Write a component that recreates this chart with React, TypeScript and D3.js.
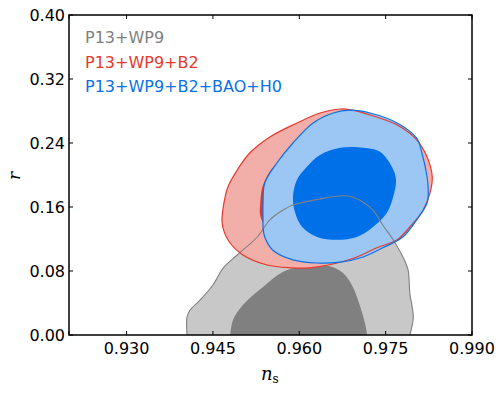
import React from 'react';
import * as d3 from 'd3';

// contour points are [n_s, r]
const grayOuter: [number, number][] = [
  [0.9405, 0], [0.9405, 0.0225], [0.9410, 0.031], [0.9428, 0.044], [0.9450, 0.0625],
  [0.9468, 0.084], [0.9492, 0.100], [0.9527, 0.1225], [0.9549, 0.144], [0.9567, 0.154],
  [0.9589, 0.1625], [0.9636, 0.170], [0.9676, 0.174], [0.9692, 0.1725], [0.9711, 0.166],
  [0.9728, 0.156], [0.9745, 0.1375], [0.9763, 0.119], [0.9780, 0.0975], [0.9789, 0.081],
  [0.9792, 0.0525], [0.9798, 0.0225], [0.9792, 0],
];
const grayInner: [number, number][] = [
  [0.9480, 0], [0.9485, 0.019], [0.9502, 0.0375], [0.9537, 0.060], [0.9572, 0.079],
  [0.9601, 0.085], [0.9631, 0.086], [0.9653, 0.086], [0.9676, 0.0775], [0.9693, 0.060],
  [0.9706, 0.035], [0.9714, 0.015], [0.9718, 0],
];
const redOuter: [number, number][] = [
  [0.9466, 0.140], [0.9468, 0.160], [0.9476, 0.185], [0.9492, 0.206], [0.9514, 0.2275],
  [0.9549, 0.2475], [0.9596, 0.265], [0.9636, 0.2775], [0.9671, 0.2825], [0.9692, 0.281],
  [0.9723, 0.275], [0.9770, 0.2625], [0.9804, 0.244], [0.9822, 0.2225], [0.9831, 0.1975],
  [0.9827, 0.1775], [0.9815, 0.156], [0.9792, 0.135], [0.9770, 0.119], [0.9735, 0.109],
  [0.9700, 0.0975], [0.9666, 0.090], [0.9619, 0.084], [0.9584, 0.084], [0.9544, 0.0875],
  [0.9502, 0.100], [0.9476, 0.119],
];
const redInner: [number, number][] = [
  [0.9532, 0.1625], [0.9537, 0.1875], [0.9558, 0.2125], [0.9601, 0.231], [0.9671, 0.241],
  [0.9732, 0.231], [0.9766, 0.206], [0.9771, 0.175], [0.9749, 0.141], [0.9705, 0.121],
  [0.9636, 0.116], [0.9575, 0.124], [0.9540, 0.1375], [0.9532, 0.150],
];
const blueOuter: [number, number][] = [
  [0.9537, 0.144], [0.9537, 0.165], [0.9540, 0.190], [0.9561, 0.215], [0.9589, 0.240],
  [0.9624, 0.265], [0.9659, 0.2775], [0.9688, 0.281], [0.9723, 0.2775], [0.9770, 0.265],
  [0.9804, 0.246], [0.9813, 0.2275], [0.9822, 0.1975], [0.9824, 0.181], [0.9822, 0.165],
  [0.9804, 0.144], [0.9780, 0.1225], [0.9745, 0.109], [0.9711, 0.0975], [0.9671, 0.091],
  [0.9631, 0.090], [0.9589, 0.094], [0.9554, 0.106], [0.9540, 0.1225], [0.9537, 0.135],
];
const blueInner: [number, number][] = [
  [0.9589, 0.1725], [0.9596, 0.194], [0.9613, 0.210], [0.9636, 0.225], [0.9671, 0.234],
  [0.9711, 0.234], [0.9740, 0.229], [0.9761, 0.210], [0.9768, 0.194], [0.9763, 0.1725],
  [0.9752, 0.1525], [0.9728, 0.135], [0.9700, 0.1225], [0.9666, 0.119], [0.9631, 0.1225],
  [0.9605, 0.135], [0.9593, 0.1525],
];

const xTicks = [0.92, 0.93, 0.945, 0.96, 0.975, 0.99];
const xTickLabels = ['', '0.930', '0.945', '0.960', '0.975', '0.990'];
const yTicks = [0, 0.08, 0.16, 0.24, 0.32, 0.4];
const legendLabels = ['P13+WP9', 'P13+WP9+B2', 'P13+WP9+B2+BAO+H0'];
const legendColors = ['#808080', '#e8392c', '#0a72e8'];

const W = 504, H = 396;
const M = { left: 69, right: 472, top: 15, bottom: 335 };
const FONT = 'DejaVu Sans, sans-serif';

export default function App() {
  const x = d3.scaleLinear().domain([0.92, 0.99]).range([M.left, M.right]);
  const y = d3.scaleLinear().domain([0, 0.4]).range([M.bottom, M.top]);

  // bottom-touching gray contours stay open along the axis
  const open = d3.line<[number, number]>().x(d => x(d[0])).y(d => y(d[1])).curve(d3.curveCatmullRom);
  const closed = d3.line<[number, number]>().x(d => x(d[0])).y(d => y(d[1])).curve(d3.curveCatmullRomClosed);
  const grayFill = (pts: [number, number][]) => open(pts) + 'Z';

  return (
    <svg width={W} height={H} style={{ position: 'absolute', left: 0, top: 0, background: '#fff' }}>
      <defs>
        <clipPath id="plotClip">
          <rect x={M.left} y={M.top} width={M.right - M.left} height={M.bottom - M.top} />
        </clipPath>
      </defs>
      <g clipPath="url(#plotClip)">
        <path d={grayFill(grayOuter)} fill="#c8c8c8" />
        <path d={grayFill(grayInner)} fill="#808080" />
        <path d={closed(redOuter)!} fill="#f2aea8" />
        <path d={closed(redInner)!} fill="#e2382b" />
        <path d={closed(blueOuter)!} fill="#9cc6f4" />
        <path d={closed(blueInner)!} fill="#0070e8" />
        <path d={open(grayOuter)!} fill="none" stroke="#808080" strokeWidth={1.1} />
        <path d={closed(redOuter)!} fill="none" stroke="#e8392c" strokeWidth={1.2} />
        <path d={closed(blueOuter)!} fill="none" stroke="#0a72e8" strokeWidth={1.2} />
      </g>

      {/* frame and ticks */}
      <rect x={M.left} y={M.top} width={M.right - M.left} height={M.bottom - M.top}
        fill="none" stroke="#000" strokeWidth={1.5} />
      {xTicks.map((t, i) => (
        <g key={'x' + i}>
          <line x1={x(t)} x2={x(t)} y1={M.bottom} y2={M.bottom - 4} stroke="#000" />
          <line x1={x(t)} x2={x(t)} y1={M.top} y2={M.top + 4} stroke="#000" />
          <text x={x(t)} y={354} textAnchor="middle" fontSize={16} fontFamily={FONT}>{xTickLabels[i]}</text>
        </g>
      ))}
      {yTicks.map((t, i) => (
        <g key={'y' + i}>
          <line x1={M.left} x2={M.left + 4} y1={y(t)} y2={y(t)} stroke="#000" />
          <line x1={M.right} x2={M.right - 4} y1={y(t)} y2={y(t)} stroke="#000" />
          <text x={65} y={y(t) + 6} textAnchor="end" fontSize={16} fontFamily={FONT}>{t.toFixed(2)}</text>
        </g>
      ))}

      {/* legend */}
      {legendLabels.map((l, i) => (
        <text key={l} x={85} y={43 + i * 24.5} fontSize={16} fontFamily={FONT} fill={legendColors[i]}>{l}</text>
      ))}

      {/* axis labels */}
      <text transform="translate(20,176) rotate(-90)" textAnchor="middle" fontSize={17}
        fontFamily="DejaVu Serif, serif" fontStyle="italic">r</text>
      <text x={261} y={380} fontSize={18} fontFamily="DejaVu Serif, serif" fontStyle="italic">
        n<tspan fontStyle="normal" fontSize={12} dy={3}>s</tspan>
      </text>
    </svg>
  );
}
